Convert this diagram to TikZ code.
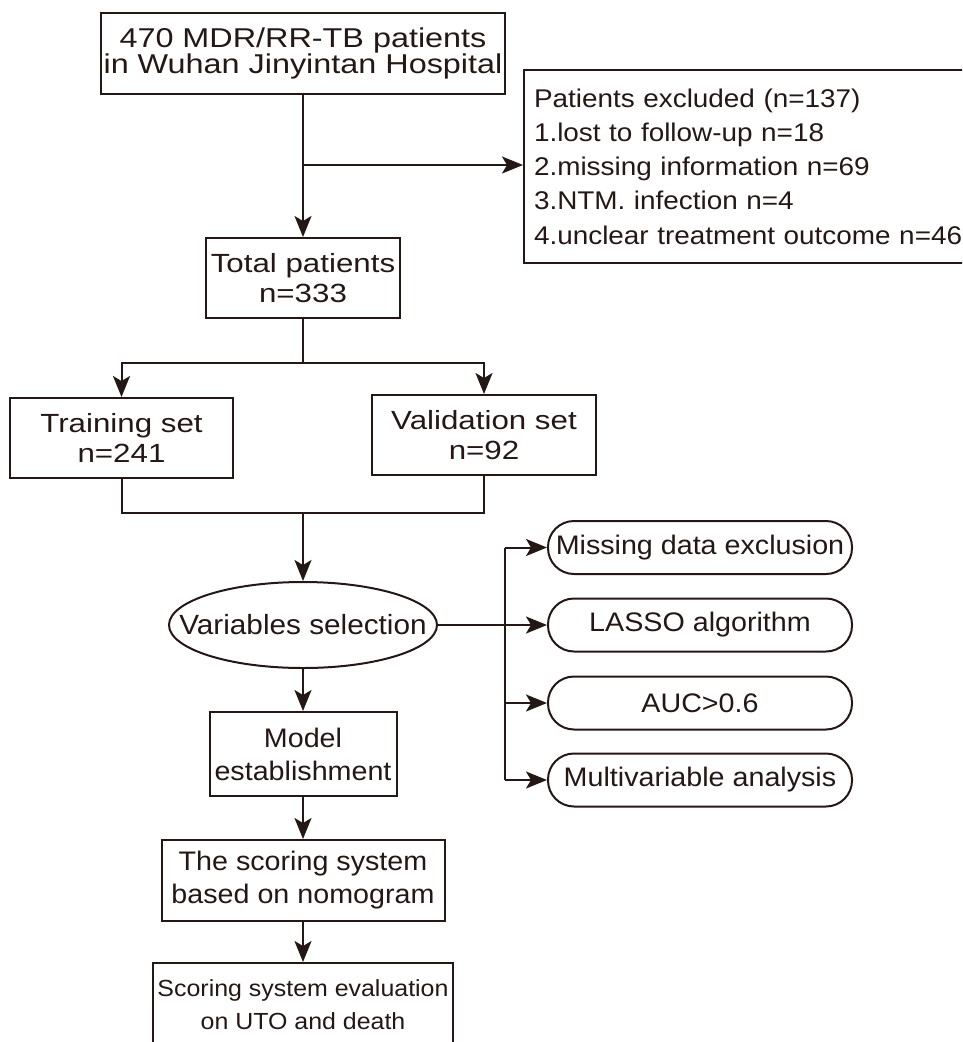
\documentclass[tikz,border=0pt]{standalone}
\usepackage{fontspec}
\setmainfont{Liberation Sans}
\newfontfamily\fa{Liberation Sans}[FakeStretch=1.19]
\newfontfamily\fb{Liberation Sans}[FakeStretch=1.09]
\newfontfamily\fc{Liberation Sans}[FakeStretch=1.07]
\usetikzlibrary{arrows.meta,shapes.geometric}
\definecolor{ink}{RGB}{35,24,21}
\tikzset{
  box/.style={draw=ink, line width=2pt, rectangle, inner sep=0pt, align=center, text=ink},
  pill/.style={draw=ink, line width=2pt, rectangle, rounded corners=26pt, inner sep=0pt,
    minimum width=304pt, minimum height=53pt, text=ink, font=\fc\fontsize{26.8}{30}\selectfont},
  arr/.style={draw=ink, line width=2pt, -{Stealth[length=21pt,width=17pt,inset=5pt]}},
  conn/.style={draw=ink, line width=2pt},
  bigfont/.style={font=\fa\fontsize{27.2}{26.5}\selectfont},
  setfont/.style={font=\fa\fontsize{26.3}{29.5}\selectfont},
  midfont/.style={font=\fc\fontsize{26.8}{33}\selectfont}
}
\begin{document}
\begin{tikzpicture}[x=1pt,y=-1pt]
\useasboundingbox (0,0) rectangle (962,1042);
\fill[white] (0,0) rectangle (962,1042);
\clip (0,0) rectangle (962,1042);

\node[box, bigfont, minimum width=404pt, minimum height=81pt] (top) at (303,53.5)
  {470 MDR/RR-TB patients\\in Wuhan Jinyintan Hospital};
\node[box, anchor=north west, minimum width=480pt, minimum height=193pt, text width=460pt,
  inner xsep=10pt, align=left, font=\fb\fontsize{25.6}{34.3}\selectfont] (excl) at (523,69)
  {Patients excluded (n=137)\\1.lost to follow-up n=18\\2.missing information n=69\\3.NTM. infection n=4\\4.unclear treatment outcome n=46};
\node[box, setfont, minimum width=194pt, minimum height=80pt] (total) at (303,278)
  {Total patients\\n=333};
\node[box, setfont, minimum width=223pt, minimum height=80pt] (train) at (121.5,438)
  {Training set\\n=241};
\node[box, setfont, minimum width=224pt, minimum height=80pt] (valid) at (484,435)
  {Validation set\\n=92};
\node[draw=ink, line width=2pt, ellipse, inner sep=0pt, minimum width=268pt, minimum height=86pt,
  text=ink, font=\fc\fontsize{27.8}{30}\selectfont] (sel) at (303,625) {\makebox[0pt]{Variables selection}};
\node[box, midfont, minimum width=187pt, minimum height=84pt] (model) at (303,754)
  {Model\\establishment};
\node[box, midfont, minimum width=283pt, minimum height=81pt] (score) at (303,880.5)
  {The scoring system\\based on nomogram};
\node[box, font=\fc\fontsize{23.3}{33}\selectfont, minimum width=300pt, minimum height=84pt] (eval) at (303,1005)
  {Scoring system evaluation\\on UTO and death};

\node[pill] (miss) at (700,547.5) {Missing data exclusion};
\node[pill] (lasso) at (700,625) {LASSO algorithm};
\node[pill] (auc) at (700,703) {AUC>0.6};
\node[pill] (multi) at (700,780) {Multivariable analysis};

% connectors
\draw[arr] (top.south) -- (total.north);
\coordinate (br) at (303,165);
\draw[arr] (br) -- (br -| excl.west);
\coordinate (sp) at (303,363);
\draw[conn] (total.south) -- (sp);
\draw[arr] (sp) -| (train.north);
\draw[arr] (sp) -| (valid.north);
\coordinate (jn) at (303,513);
\draw[conn] (train.south) |- (jn);
\draw[conn] (valid.south) |- (jn);
\draw[arr] (jn) -- (sel.north);
\draw[arr] (sel.south) -- (model.north);
\draw[arr] (model.south) -- (score.north);
\draw[arr] (score.south) -- (eval.north);
\draw[arr] (sel.east) -- (lasso.west);
\coordinate (bt) at (505,547.5);
\coordinate (ba) at (505,703);
\coordinate (bb) at (505,780);
\draw[conn] (bt) -- (bb);
\draw[arr] (bt) -- (miss.west);
\draw[arr] (ba) -- (auc.west);
\draw[arr] (bb) -- (multi.west);
\end{tikzpicture}
\end{document}
